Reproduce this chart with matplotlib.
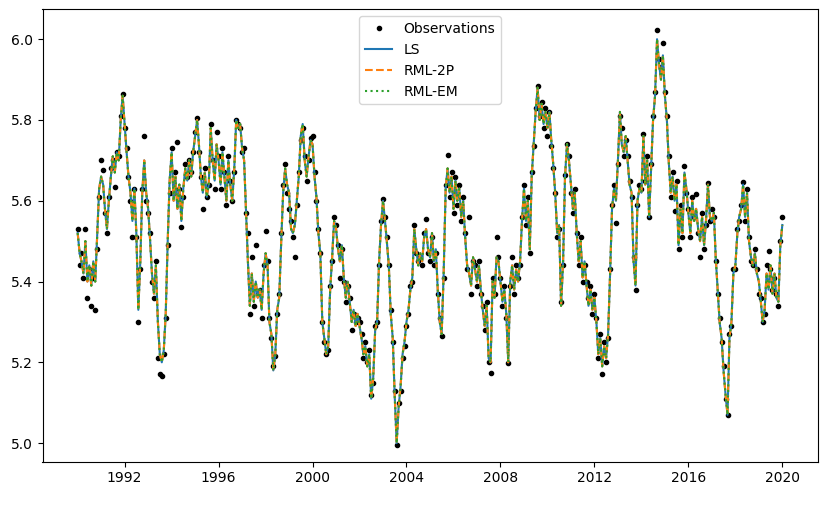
import pandas as pd
import matplotlib
matplotlib.use('Agg')
import matplotlib.pyplot as plt
import matplotlib.dates as mdates

# monthly values, one row per year (1990 .. 2019) + Jan 2020
obs = [
    5.53, 5.44, 5.47, 5.41, 5.53, 5.36, 5.43, 5.34, 5.41, 5.33, 5.48, 5.61,
    5.70, 5.675, 5.57, 5.52, 5.61, 5.68, 5.70, 5.635, 5.72, 5.71, 5.81, 5.865,
    5.78, 5.73, 5.66, 5.60, 5.51, 5.63, 5.51, 5.30, 5.43, 5.63, 5.76, 5.60,
    5.57, 5.52, 5.40, 5.36, 5.45, 5.21, 5.17, 5.165, 5.22, 5.31, 5.49, 5.62,
    5.73, 5.62, 5.67, 5.745, 5.63, 5.535, 5.61, 5.69, 5.66, 5.70, 5.67, 5.72,
    5.77, 5.805, 5.72, 5.66, 5.58, 5.68, 5.61, 5.64, 5.79, 5.70, 5.63, 5.77,
    5.71, 5.63, 5.73, 5.67, 5.59, 5.71, 5.65, 5.60, 5.67, 5.80, 5.79, 5.78,
    5.72, 5.73, 5.57, 5.52, 5.32, 5.46, 5.34, 5.49, 5.37, 5.38, 5.31, 5.44,
    5.525, 5.45, 5.31, 5.26, 5.19, 5.215, 5.32, 5.37, 5.52, 5.64, 5.69, 5.62,
    5.58, 5.55, 5.51, 5.46, 5.59, 5.67, 5.75, 5.78, 5.71, 5.65, 5.70, 5.755,
    5.76, 5.67, 5.60, 5.53, 5.47, 5.30, 5.25, 5.22, 5.23, 5.39, 5.45, 5.56,
    5.54, 5.49, 5.41, 5.48, 5.40, 5.35, 5.39, 5.36, 5.28, 5.32, 5.30, 5.31,
    5.30, 5.27, 5.21, 5.25, 5.20, 5.23, 5.12, 5.15, 5.29, 5.30, 5.44, 5.55,
    5.605, 5.56, 5.51, 5.44, 5.33, 5.25, 5.13, 4.995, 5.10, 5.13, 5.21, 5.24,
    5.29, 5.32, 5.39, 5.40, 5.54, 5.47, 5.45, 5.46, 5.44, 5.52, 5.555, 5.47,
    5.45, 5.51, 5.44, 5.47, 5.37, 5.31, 5.265, 5.41, 5.64, 5.713, 5.61, 5.67,
    5.57, 5.66, 5.59, 5.64, 5.55, 5.61, 5.52, 5.43, 5.56, 5.37, 5.45, 5.44,
    5.39, 5.45, 5.37, 5.34, 5.28, 5.35, 5.20, 5.173, 5.41, 5.37, 5.51, 5.46,
    5.41, 5.34, 5.39, 5.31, 5.199, 5.39, 5.46, 5.37, 5.44, 5.41, 5.44, 5.56,
    5.64, 5.54, 5.61, 5.47, 5.67, 5.735, 5.83, 5.885, 5.81, 5.845, 5.78, 5.83,
    5.76, 5.82, 5.735, 5.68, 5.62, 5.51, 5.53, 5.35, 5.44, 5.665, 5.74, 5.71,
    5.62, 5.57, 5.63, 5.52, 5.44, 5.51, 5.40, 5.44, 5.40, 5.36, 5.39, 5.32,
    5.37, 5.31, 5.21, 5.27, 5.17, 5.25, 5.20, 5.26, 5.43, 5.59, 5.64, 5.545,
    5.69, 5.81, 5.78, 5.71, 5.75, 5.71, 5.65, 5.61, 5.46, 5.38, 5.59, 5.64,
    5.63, 5.765, 5.65, 5.71, 5.56, 5.69, 5.81, 5.87, 6.023, 5.95, 5.93, 5.99,
    5.87, 5.81, 5.71, 5.61, 5.67, 5.575, 5.65, 5.48, 5.59, 5.51, 5.685, 5.62,
    5.58, 5.51, 5.61, 5.56, 5.617, 5.52, 5.46, 5.57, 5.48, 5.54, 5.645, 5.55,
    5.58, 5.56, 5.45, 5.37, 5.31, 5.25, 5.19, 5.11, 5.07, 5.27, 5.29, 5.43,
    5.43, 5.53, 5.55, 5.59, 5.647, 5.55, 5.63, 5.51, 5.45, 5.44, 5.48, 5.43,
    5.37, 5.36, 5.30, 5.32, 5.44, 5.475, 5.43, 5.38, 5.41, 5.37, 5.34, 5.50,
    5.56,
]

fitted = [
    5.52, 5.47, 5.45, 5.42, 5.50, 5.40, 5.44, 5.39, 5.45, 5.40, 5.52, 5.63,
    5.66, 5.64, 5.58, 5.53, 5.60, 5.66, 5.71, 5.67, 5.72, 5.70, 5.80, 5.86,
    5.79, 5.72, 5.66, 5.62, 5.55, 5.63, 5.52, 5.33, 5.45, 5.62, 5.70, 5.62,
    5.58, 5.50, 5.42, 5.37, 5.44, 5.30, 5.22, 5.20, 5.23, 5.32, 5.50, 5.65,
    5.72, 5.60, 5.66, 5.58, 5.64, 5.55, 5.63, 5.68, 5.65, 5.70, 5.66, 5.72,
    5.76, 5.80, 5.74, 5.66, 5.62, 5.67, 5.61, 5.64, 5.78, 5.70, 5.65, 5.74,
    5.70, 5.64, 5.72, 5.66, 5.60, 5.70, 5.64, 5.60, 5.68, 5.80, 5.78, 5.79,
    5.73, 5.70, 5.58, 5.45, 5.34, 5.42, 5.35, 5.40, 5.36, 5.38, 5.33, 5.42,
    5.47, 5.44, 5.30, 5.27, 5.18, 5.22, 5.33, 5.36, 5.50, 5.62, 5.68, 5.64,
    5.62, 5.53, 5.52, 5.54, 5.60, 5.66, 5.76, 5.79, 5.70, 5.66, 5.71, 5.75,
    5.74, 5.66, 5.61, 5.52, 5.47, 5.30, 5.26, 5.22, 5.24, 5.38, 5.46, 5.55,
    5.53, 5.48, 5.45, 5.49, 5.41, 5.36, 5.40, 5.35, 5.30, 5.33, 5.29, 5.32,
    5.29, 5.26, 5.22, 5.24, 5.19, 5.22, 5.11, 5.16, 5.28, 5.30, 5.45, 5.54,
    5.60, 5.55, 5.50, 5.44, 5.32, 5.26, 5.12, 5.00, 5.09, 5.14, 5.22, 5.25,
    5.30, 5.33, 5.38, 5.41, 5.53, 5.48, 5.44, 5.47, 5.45, 5.51, 5.53, 5.48,
    5.46, 5.52, 5.45, 5.48, 5.38, 5.30, 5.27, 5.42, 5.63, 5.68, 5.62, 5.66,
    5.58, 5.65, 5.60, 5.63, 5.56, 5.60, 5.51, 5.44, 5.42, 5.39, 5.46, 5.43,
    5.40, 5.44, 5.38, 5.33, 5.29, 5.34, 5.21, 5.20, 5.40, 5.36, 5.46, 5.45,
    5.40, 5.35, 5.38, 5.32, 5.20, 5.40, 5.44, 5.38, 5.43, 5.40, 5.45, 5.55,
    5.63, 5.55, 5.60, 5.48, 5.66, 5.74, 5.82, 5.88, 5.80, 5.84, 5.79, 5.82,
    5.78, 5.82, 5.75, 5.69, 5.62, 5.52, 5.54, 5.34, 5.45, 5.66, 5.74, 5.70,
    5.64, 5.58, 5.62, 5.52, 5.45, 5.50, 5.41, 5.45, 5.39, 5.34, 5.38, 5.33,
    5.36, 5.30, 5.22, 5.26, 5.19, 5.24, 5.21, 5.27, 5.42, 5.58, 5.63, 5.60,
    5.70, 5.82, 5.74, 5.72, 5.76, 5.70, 5.64, 5.62, 5.45, 5.39, 5.60, 5.63,
    5.62, 5.76, 5.64, 5.70, 5.56, 5.68, 5.80, 5.86, 6.00, 5.94, 5.90, 5.96,
    5.86, 5.80, 5.70, 5.62, 5.66, 5.60, 5.64, 5.49, 5.58, 5.52, 5.67, 5.63,
    5.57, 5.52, 5.60, 5.55, 5.58, 5.53, 5.50, 5.56, 5.49, 5.55, 5.64, 5.56,
    5.55, 5.57, 5.46, 5.38, 5.30, 5.26, 5.18, 5.12, 5.07, 5.26, 5.30, 5.42,
    5.44, 5.52, 5.56, 5.58, 5.64, 5.56, 5.62, 5.50, 5.46, 5.44, 5.47, 5.42,
    5.40, 5.35, 5.30, 5.33, 5.42, 5.38, 5.44, 5.37, 5.42, 5.36, 5.35, 5.49,
    5.54,
]

dates = pd.date_range('1990-01-01', '2020-01-01', freq='MS')

fig = plt.figure(figsize=(8.26, 5.05), dpi=100)
ax = fig.add_axes([42.5 / 826, (505 - 461.7) / 505, 775 / 826, 452.4 / 505])

ax.plot(dates, obs, 'k.', label='Observations')
ax.plot(dates, fitted, '-', color='tab:blue', label='LS')
ax.plot(dates, fitted, '--', color='tab:orange', label='RML-2P')
ax.plot(dates, fitted, ':', color='tab:green', label='RML-EM')

ax.set_xlim(pd.Timestamp('1988-07-03'), pd.Timestamp('2021-07-01'))
ax.set_ylim(4.954, 6.074)
ax.xaxis.set_major_locator(mdates.YearLocator(4))
ax.xaxis.set_major_formatter(mdates.DateFormatter('%Y'))
ax.legend(loc='upper center')

plt.savefig('out.png', dpi=100)
